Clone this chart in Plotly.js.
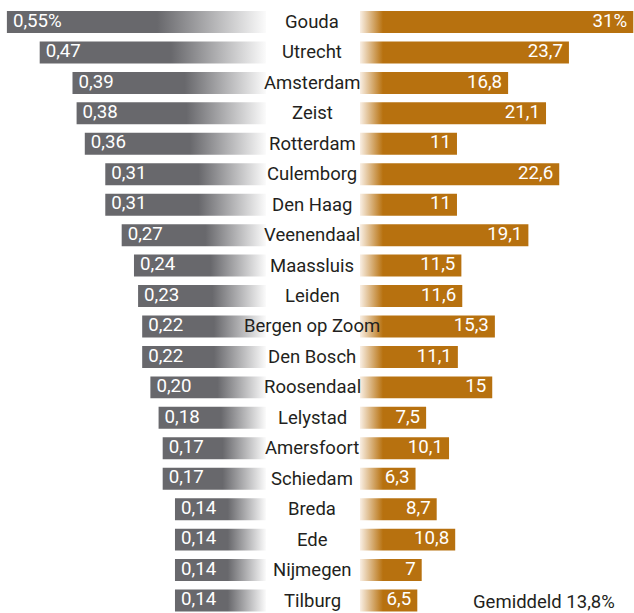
<!DOCTYPE html>
<html>
<head>
<meta charset="utf-8">
<script src="https://cdn.plot.ly/plotly-3.0.1.min.js"></script>
<style>
  html, body { margin: 0; padding: 0; background: #ffffff; }
  #chart { width: 634px; height: 613px; }
</style>
</head>
<body>
<div id="chart"></div>
<script>
// ---- data ----
const cities = ["Gouda", "Utrecht", "Amsterdam", "Zeist", "Rotterdam", "Culemborg", "Den Haag",
  "Veenendaal", "Maassluis", "Leiden", "Bergen op Zoom", "Den Bosch", "Roosendaal", "Lelystad",
  "Amersfoort", "Schiedam", "Breda", "Ede", "Nijmegen", "Tilburg"];
const leftValues = [0.55, 0.47, 0.39, 0.38, 0.36, 0.31, 0.31, 0.27, 0.24, 0.23, 0.22, 0.22, 0.20,
  0.18, 0.17, 0.17, 0.14, 0.14, 0.14, 0.14];
const leftLabels = ["0,55%", "0,47", "0,39", "0,38", "0,36", "0,31", "0,31", "0,27", "0,24", "0,23",
  "0,22", "0,22", "0,20", "0,18", "0,17", "0,17", "0,14", "0,14", "0,14", "0,14"];
const rightValues = [31, 23.7, 16.8, 21.1, 11, 22.6, 11, 19.1, 11.5, 11.6, 15.3, 11.1, 15, 7.5,
  10.1, 6.3, 8.7, 10.8, 7, 6.5];
const rightLabels = ["31%", "23,7", "16,8", "21,1", "11", "22,6", "11", "19,1", "11,5", "11,6",
  "15,3", "11,1", "15", "7,5", "10,1", "6,3", "8,7", "10,8", "7", "6,5"];
const averageText = "Gemiddeld 13,8%";

// ---- styling / geometry ----
const W = 634, H = 613;
const GRAY = "#68686c";
const ORANGE = "#b7710f";
const TEXT = "#231f20";
const FONT = "Roboto, 'Liberation Sans', Arial, sans-serif";
const FS = 18.7;

const leftPxPerUnit = 410;
const leftBase = -0.082;               // bars extend slightly past zero toward the centre
const leftRange = [0.5668, leftBase];  // reversed
const rightPxPerUnit = 8.816;
const rightRange = [0, 274 / rightPxPerUnit];
const halfH = 0.361;
const rightFadeUnits = 23 / rightPxPerUnit;

const traces = [];
cities.forEach((c, i) => {
  const v = leftValues[i];
  traces.push({
    type: "scatter", mode: "lines", xaxis: "x", yaxis: "y",
    x: [leftBase, v, v, leftBase, leftBase],
    y: [i - halfH, i - halfH, i + halfH, i + halfH, i - halfH],
    fill: "toself", fillcolor: GRAY, line: { width: 0, color: "rgba(0,0,0,0)" },
    fillgradient: { type: "horizontal", start: v, stop: leftBase,
      colorscale: [[0, GRAY], [0.58, GRAY], [1, "#fbfbfb"]] },
    hoverinfo: "skip", showlegend: false
  });
  const r = rightValues[i];
  traces.push({
    type: "scatter", mode: "lines", xaxis: "x2", yaxis: "y",
    x: [0, r, r, 0, 0],
    y: [i - halfH, i - halfH, i + halfH, i + halfH, i - halfH],
    fill: "toself", fillcolor: ORANGE, line: { width: 0, color: "rgba(0,0,0,0)" },
    fillgradient: { type: "horizontal", start: 0, stop: rightFadeUnits,
      colorscale: [[0, "#f9efe4"], [1, ORANGE]] },
    hoverinfo: "skip", showlegend: false
  });
});

// value labels
traces.push({
  type: "scatter", mode: "text", xaxis: "x", yaxis: "y",
  x: leftValues.map(v => v - 6 / leftPxPerUnit),
  y: cities.map((c, i) => i),
  text: leftLabels, textposition: "middle right",
  textfont: { family: FONT, size: FS, color: "#ffffff" },
  hoverinfo: "skip", showlegend: false
});
traces.push({
  type: "scatter", mode: "text", xaxis: "x2", yaxis: "y",
  x: rightValues.map(v => v - 6 / rightPxPerUnit),
  y: cities.map((c, i) => i),
  text: rightLabels, textposition: "middle left",
  textfont: { family: FONT, size: FS, color: "#ffffff" },
  hoverinfo: "skip", showlegend: false
});

const annotations = cities.map((c, i) => ({
  xref: "paper", yref: "y", x: 312 / W, y: i, text: c, showarrow: false,
  xanchor: "center", yanchor: "middle",
  font: { family: FONT, size: 18.5, color: TEXT }
}));
annotations.push({
  xref: "paper", yref: "paper", x: 617 / W, y: 1 - 602 / H, text: averageText,
  showarrow: false, xanchor: "right", yanchor: "middle",
  font: { family: FONT, size: 18.5, color: TEXT }
});

const layout = {
  width: W, height: H,
  margin: { l: 0, r: 0, t: 0, b: 0, pad: 0 },
  paper_bgcolor: "#ffffff", plot_bgcolor: "#ffffff",
  showlegend: false,
  xaxis: { domain: [0, 266 / W], range: leftRange, visible: false, fixedrange: true },
  xaxis2: { domain: [360 / W, 1], range: rightRange, visible: false, anchor: "y", fixedrange: true },
  yaxis: { range: [19.41, -0.7225], visible: false, fixedrange: true },
  annotations: annotations
};

Plotly.newPlot("chart", traces, layout, { displayModeBar: false, staticPlot: true });
</script>
</body>
</html>
